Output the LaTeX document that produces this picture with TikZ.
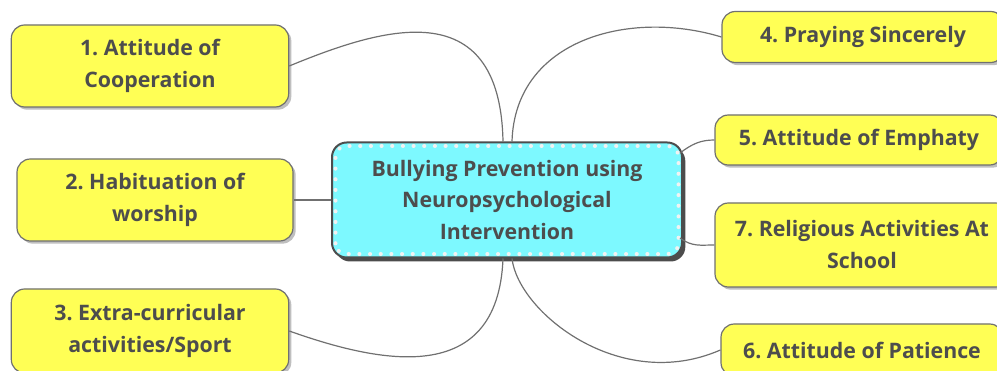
\documentclass[tikz,border=0pt]{standalone}
\usepackage{fontspec}
\setmainfont{Open Sans}[BoldFont={Open Sans Bold}]
\frenchspacing
\usepackage{tikz}
\usetikzlibrary{shadows}
\definecolor{leafyellow}{HTML}{FFFF55}
\definecolor{hubcyan}{HTML}{7DF9FF}
\definecolor{inkgrey}{HTML}{4D4D4D}
\definecolor{linegrey}{HTML}{707070}
\tikzset{
 shape=rectangle,
 leaf/.style={rounded corners=10pt, draw=linegrey, line width=0.9pt, fill=leafyellow,
   text=inkgrey, font=\bfseries\fontsize{16}{24}\selectfont, align=center, inner sep=0pt,
   minimum width=208pt, minimum height=61.5pt,
   drop shadow={shadow xshift=2pt, shadow yshift=-2pt, opacity=0.25, fill=black}},
 hub/.style={rounded corners=11pt, draw=inkgrey, line width=1.5pt, fill=hubcyan,
   text=inkgrey, font=\bfseries\fontsize{16}{23.6}\selectfont, align=center, inner sep=0pt,
   minimum width=262.5pt, minimum height=86.25pt,
   drop shadow={shadow xshift=2.5pt, shadow yshift=-3pt, opacity=0.7, fill=black}},
 branch/.style={draw=linegrey, line width=0.9pt}
}

\begin{document}
\begin{tikzpicture}[x=0.75pt,y=0.75pt]
\useasboundingbox (0,0) rectangle (997,371);

% centre
\path (507,171) node[hub,name=hub] {Bullying Prevention using\\ Neuropsychological\\ Intervention};
\path[draw=white!95!black, line width=3pt, line cap=round, dash pattern=on 0.1pt off 7.9pt, rounded corners=8pt]
  ([shift={(4.5,4.5)}]hub.south west) rectangle ([shift={(-4.5,-4.5)}]hub.north east);

% left side
\path (150,305) node[leaf,name=coop] {1. Attitude of\\ Cooperation};
\path (155,171) node[leaf,name=worship,minimum width=207pt] {2. Habituation of\\ worship};
\path (150,40) node[leaf,name=sport,minimum height=63pt] {3. Extra-curricular\\ activities/Sport};

% right side
\path (863,334) node[leaf,name=pray,minimum width=211.5pt,minimum height=38.25pt] {4. Praying Sincerely};
\path (859,231) node[leaf,name=empathy,minimum width=216pt,minimum height=37.5pt] {5. Attitude of Emphaty};
\path (862,126) node[leaf,name=religious,minimum width=220.5pt,minimum height=63pt] {7. Religious Activities At\\ School};
\path (862,21) node[leaf,name=patience,minimum width=211.5pt,minimum height=39pt] {6. Attitude of Patience};

% branches
\path[branch] ([xshift=-3pt]hub.north) .. controls +(-3,152) and +(90,37) .. (coop.east);
\path[branch] ([xshift=3.75pt]hub.north) .. controls +(3,102) and +(-92,28) .. (pray.west);
\path[branch] (worship.east) -- (hub.west);
\path[branch] ([xshift=-3pt]hub.south) .. controls +(-5,-130) and +(90,-32) .. (sport.east);
\path[branch] ([xshift=3.75pt]hub.south) .. controls +(6,-53) and +(-101,-44) .. (patience.west);
\path[branch] ([shift={(-3,47)}]hub.east) .. controls +(12,9) and +(-14,0) .. (empathy.west);
\path[branch] ([shift={(-3,-38)}]hub.east) .. controls +(12,-9) and +(-14,0) .. (religious.west);
\end{tikzpicture}
\end{document}
